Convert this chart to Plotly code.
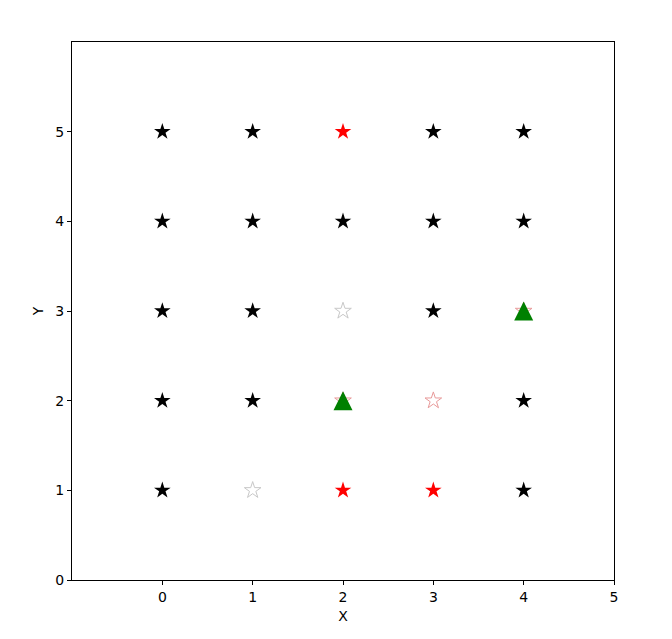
import plotly.graph_objects as go

# black filled stars
black_x = [0, 1, 3, 4, 0, 1, 2, 3, 4, 0, 1, 3, 0, 1, 4, 0, 4]
black_y = [5, 5, 5, 5, 4, 4, 4, 4, 4, 3, 3, 3, 2, 2, 2, 1, 1]
# red filled stars
red_x = [2, 2, 3]
red_y = [5, 1, 1]
# gray hollow stars
gray_x = [2, 1]
gray_y = [3, 1]
# pink hollow stars
pink_x = [3, 2, 4]
pink_y = [2, 2, 3]
# green triangles
tri_x = [2, 4]
tri_y = [2, 3]

x_ticks = [0, 1, 2, 3, 4, 5]
y_ticks = [0, 1, 2, 3, 4, 5]

fig = go.Figure()
fig.add_trace(go.Scatter(x=black_x, y=black_y, mode="markers",
                         marker=dict(symbol="star", size=12.5, color="black", line=dict(width=0))))
fig.add_trace(go.Scatter(x=red_x, y=red_y, mode="markers",
                         marker=dict(symbol="star", size=12.5, color="red", line=dict(width=0))))
fig.add_trace(go.Scatter(x=gray_x, y=gray_y, mode="markers",
                         marker=dict(symbol="star-open", size=12.5, color="#c8c8c8", line=dict(width=1, color="#c8c8c8"))))
fig.add_trace(go.Scatter(x=pink_x, y=pink_y, mode="markers",
                         marker=dict(symbol="star-open", size=12.5, color="#e89a9a", line=dict(width=1, color="#e89a9a"))))
fig.add_trace(go.Scatter(x=tri_x, y=tri_y, mode="markers",
                         marker=dict(symbol="arrow-down", angle=180, standoff=9.5, size=19,
                                     color="green", line=dict(width=0))))

axis_common = dict(showgrid=False, zeroline=False, showline=True, linecolor="black", linewidth=1,
                   mirror=True, ticks="outside", ticklen=4, tickcolor="black",
                   tickfont=dict(family="DejaVu Sans", size=14, color="black"))
fig.update_layout(
    width=672, height=639,
    margin=dict(l=64, r=66, t=34, b=67),
    paper_bgcolor="white", plot_bgcolor="white",
    showlegend=False,
    xaxis=dict(range=[-1, 5], tickvals=x_ticks, title=dict(text="X", font=dict(family="DejaVu Sans", size=14, color="black"), standoff=7), **axis_common),
    yaxis=dict(range=[0, 6], tickvals=y_ticks, title=dict(text="Y", font=dict(family="DejaVu Sans", size=14, color="black"), standoff=8), **axis_common),
)
fig.write_html("out.html")
